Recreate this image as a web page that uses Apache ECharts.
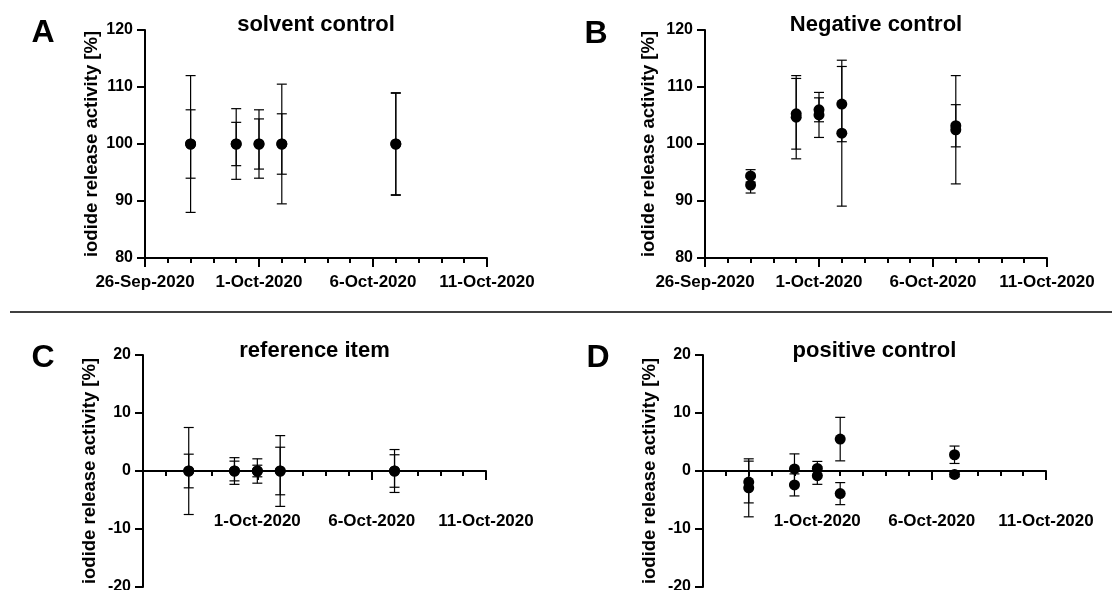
<!DOCTYPE html>
<html>
<head>
<meta charset="utf-8">
<script src="https://cdn.jsdelivr.net/npm/echarts@6/dist/echarts.min.js"></script>
<style>
  html, body { margin: 0; padding: 0; background: #fff; }
  #chart { width: 1112px; height: 590px; }
</style>
</head>
<body>
<div id="chart"></div>
<script>
// Sampling dates (two replicates measured on each date)
const sampleDates = ['2020-09-28', '2020-09-30', '2020-10-01', '2020-10-02', '2020-10-07'];
const xTickLabels = ['26-Sep-2020', '1-Oct-2020', '6-Oct-2020', '11-Oct-2020'];
const axisStartDate = '2020-09-26';

// A: solvent control (mean ± SD per replicate)
const solventRep1 = [100, 100, 100, 100, 100];
const solventRep1Sd = [12.0, 6.2, 6.0, 10.5, 9.0];
const solventRep2 = [100, 100, 100, 100, 100];
const solventRep2Sd = [6.0, 3.8, 4.4, 5.3, 8.9];

// B: negative control
const negativeRep1 = [94.4, 105.3, 106.0, 107.0, 103.2];
const negativeRep1Sd = [1.1, 6.2, 2.1, 6.6, 3.7];
const negativeRep2 = [92.8, 104.7, 105.1, 101.9, 102.5];
const negativeRep2Sd = [1.4, 7.3, 3.95, 12.8, 9.5];

// C: reference item
const referenceRep1 = [0, 0, 0, 0, 0];
const referenceRep1Sd = [7.5, 2.3, 2.1, 6.1, 3.7];
const referenceRep2 = [0, 0, 0, 0, 0];
const referenceRep2Sd = [2.9, 1.7, 1.0, 4.1, 2.8];

// D: positive control
const positiveRep1 = [-1.9, 0.35, 0.45, 5.5, 2.8];
const positiveRep1Sd = [3.6, 2.6, 1.2, 3.75, 1.5];
const positiveRep2 = [-2.9, -2.4, -0.8, -3.9, -0.6];
const positiveRep2Sd = [5.0, 1.9, 1.5, 1.9, 0.4];

const yTicksTop = { min: 80, max: 120, interval: 10 };
const yTicksBottom = { min: -20, max: 20, interval: 10 };

const FONT = '"Liberation Sans", Arial, sans-serif';
const DAY = 86400000;
const dayOffset = s => (Date.parse(s) - Date.parse(axisStartDate)) / DAY;

const panels = [
  { letter: 'A', title: 'solvent control', reps: [[solventRep1, solventRep1Sd], [solventRep2, solventRep2Sd]],
    grid: { left: 145, top: 30, width: 342, height: 228 }, y: yTicksTop, zeroAxis: false, nameGap: 44,
    letterPos: [43, 33], titleY: 25 },
  { letter: 'B', title: 'Negative control', reps: [[negativeRep1, negativeRep1Sd], [negativeRep2, negativeRep2Sd]],
    grid: { left: 705, top: 30, width: 342, height: 228 }, y: yTicksTop, zeroAxis: false, nameGap: 47,
    letterPos: [596, 34], titleY: 25 },
  { letter: 'C', title: 'reference item', reps: [[referenceRep1, referenceRep1Sd], [referenceRep2, referenceRep2Sd]],
    grid: { left: 143, top: 355, width: 343, height: 232 }, y: yTicksBottom, zeroAxis: true, nameGap: 44,
    letterPos: [43, 358], titleY: 351 },
  { letter: 'D', title: 'positive control', reps: [[positiveRep1, positiveRep1Sd], [positiveRep2, positiveRep2Sd]],
    grid: { left: 703, top: 355, width: 343, height: 232 }, y: yTicksBottom, zeroAxis: true, nameGap: 44,
    letterPos: [598, 358], titleY: 351 }
];

const grids = [], xAxes = [], labelAxes = [], yAxes = [], series = [], graphics = [];

function errorBarItem(params, api) {
  const x = api.value(0), y = api.value(1), sd = api.value(2);
  const top = api.coord([x, y + sd]);
  const bot = api.coord([x, y - sd]);
  const hw = 5;
  const style = { stroke: '#000', lineWidth: 1.2 };
  return {
    type: 'group',
    children: [
      { type: 'line', shape: { x1: top[0], y1: top[1], x2: bot[0], y2: bot[1] }, style },
      { type: 'line', shape: { x1: top[0] - hw, y1: top[1], x2: top[0] + hw, y2: top[1] }, style },
      { type: 'line', shape: { x1: bot[0] - hw, y1: bot[1], x2: bot[0] + hw, y2: bot[1] }, style }
    ]
  };
}

const dateLabel = (v, skipFirst) => {
  const idx = Math.round(v / 5);
  if (skipFirst && idx === 0) return '';
  return xTickLabels[idx] || '';
};
const xLabelStyle = { color: '#000', fontSize: 17, fontWeight: 'bold', fontFamily: FONT };

panels.forEach((p, i) => {
  grids.push(Object.assign({ containLabel: false, outerBoundsMode: 'none' }, p.grid));

  // date axis; in the lower panels it crosses the y axis at zero
  xAxes.push({
    gridIndex: i, type: 'value', min: 0, max: 15, interval: 5,
    axisLine: { show: true, onZero: p.zeroAxis, lineStyle: { color: '#000', width: 2 } },
    axisTick: { show: true, length: 9, lineStyle: { color: '#000', width: 2 } },
    minorTick: { show: true, splitNumber: 5, length: 5, lineStyle: { color: '#000', width: 2 } },
    splitLine: { show: false }, minorSplitLine: { show: false },
    axisLabel: Object.assign({
      show: !p.zeroAxis, margin: 16, showMinLabel: true, showMaxLabel: true,
      formatter: v => dateLabel(v, false)
    }, xLabelStyle)
  });

  // lower panels: date labels sit below the zero line, on a label-only axis of the same scale
  if (p.zeroAxis) {
    labelAxes.push({
      gridIndex: i, type: 'value', min: 0, max: 15, interval: 5, position: 'bottom', offset: -74,
      axisLine: { show: false, onZero: false }, axisTick: { show: false }, splitLine: { show: false },
      axisLabel: Object.assign({
        show: true, margin: 0, showMinLabel: true, showMaxLabel: true,
        formatter: v => dateLabel(v, true)
      }, xLabelStyle)
    });
  }

  yAxes.push({
    gridIndex: i, type: 'value', min: p.y.min, max: p.y.max, interval: p.y.interval,
    axisLine: { show: true, onZero: false, lineStyle: { color: '#000', width: 2 } },
    axisTick: { show: true, length: 8, lineStyle: { color: '#000', width: 2 } },
    splitLine: { show: false },
    axisLabel: { margin: 12, color: '#000', fontSize: 16, fontWeight: 'bold', fontFamily: FONT,
                 showMinLabel: true, showMaxLabel: true },
    name: 'iodide release activity [%]', nameLocation: 'middle', nameGap: p.nameGap,
    nameTextStyle: { color: '#000', fontSize: 18.5, fontWeight: 'bold', fontFamily: FONT }
  });

  const barData = [], pointData = [];
  p.reps.forEach(([means, sds]) => {
    sampleDates.forEach((d, k) => {
      barData.push([dayOffset(d), means[k], sds[k]]);
      pointData.push([dayOffset(d), means[k]]);
    });
  });

  series.push({
    type: 'custom', xAxisIndex: i, yAxisIndex: i, renderItem: errorBarItem,
    encode: { x: 0, y: 1 }, data: barData, z: 3, silent: true, clip: false
  });
  series.push({
    type: 'scatter', xAxisIndex: i, yAxisIndex: i, data: pointData,
    symbol: 'circle', symbolSize: 11, itemStyle: { color: '#000', opacity: 1 }, z: 4, silent: true
  });

  const cx = p.grid.left + p.grid.width / 2;
  graphics.push({
    type: 'text', x: cx, y: p.titleY,
    style: { text: p.title, align: 'center', verticalAlign: 'middle', fill: '#000',
             fontSize: 22, fontWeight: 'bold', fontFamily: FONT }
  });
  graphics.push({
    type: 'text', x: p.letterPos[0], y: p.letterPos[1],
    style: { text: p.letter, align: 'center', verticalAlign: 'middle', fill: '#000',
             fontSize: 32, fontWeight: 'bold', fontFamily: FONT }
  });
});

// horizontal rule separating the upper and lower rows
graphics.push({
  type: 'line', shape: { x1: 10, y1: 312, x2: 1112, y2: 312 },
  style: { stroke: '#000', lineWidth: 1.5 }
});

const chart = echarts.init(document.getElementById('chart'), null, { renderer: 'canvas' });
chart.setOption({
  animation: false,
  backgroundColor: '#fff',
  grid: grids,
  xAxis: xAxes.concat(labelAxes),
  yAxis: yAxes,
  series: series,
  graphic: graphics
});
</script>
</body>
</html>
